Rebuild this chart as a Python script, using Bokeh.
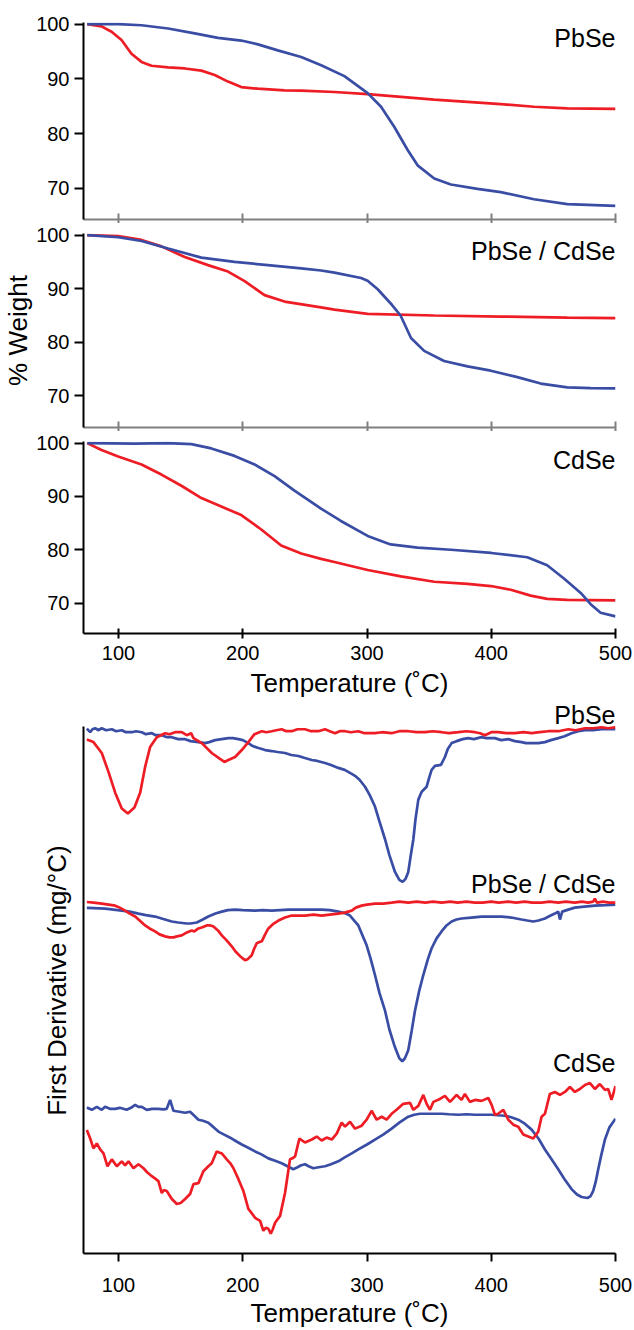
from bokeh.plotting import figure
from bokeh.layouts import column
from bokeh.models import Range1d, FixedTicker, Label
from bokeh.embed import file_html
from bokeh.resources import INLINE

# ---------------- data ----------------
x_ticks = [100, 200, 300, 400, 500]
w_ticks = [70, 80, 90, 100]
panel_names = ["PbSe", "PbSe / CdSe", "CdSe"]

# TGA: (temperature C, % weight)
tga_pbse_red = [(74.8, 100), (86.3, 99.6), (94.4, 98.6), (102.4, 97.1), (110.4, 94.6), (118.5, 93.1),
                (126.5, 92.4), (139.9, 92.1), (153.3, 91.9), (166.7, 91.5), (177.4, 90.7), (188.1, 89.5),
                (198.8, 88.5), (212.2, 88.2), (233.6, 87.9), (247, 87.85), (273.8, 87.6), (300.5, 87.2),
                (327.3, 86.7), (354.1, 86.2), (380.9, 85.8), (407.6, 85.4), (434.4, 84.9), (461.2, 84.6),
                (500, 84.5)]
tga_pbse_blue = [(74.8, 100), (99.7, 100), (118.5, 99.8), (139.9, 99.2), (161.3, 98.3), (180, 97.5),
                 (198.8, 97.0), (212.2, 96.3), (228.2, 95.2), (247, 94.0), (263.1, 92.5), (281.8, 90.5),
                 (300.5, 87.4), (311.3, 84.9), (322, 81.2), (332.7, 77.0), (340.7, 74.2), (354.1, 71.8),
                 (367.5, 70.7), (388.9, 69.9), (407.6, 69.3), (434.4, 68.0), (461.2, 67.1), (500, 66.8)]
tga_core_red = [(74.8, 100), (99.7, 99.8), (118.5, 99.1), (134.5, 97.9), (153.3, 95.9), (172, 94.4),
                (188.1, 93.2), (201.5, 91.4), (217.5, 88.8), (233.6, 87.6), (263, 86.5), (273.8, 86.1),
                (300.5, 85.3), (354.1, 85.0), (407.6, 84.8), (461.2, 84.6), (500, 84.5)]
tga_core_blue = [(74.8, 100), (99.7, 99.6), (118.5, 98.9), (139.9, 97.5), (166.7, 95.8), (193.4, 95.0),
                 (220.2, 94.4), (247, 93.8), (263, 93.4), (273.8, 93.0), (295.2, 92.0), (300.5, 91.5),
                 (308.6, 89.9), (320, 87.0), (327, 85.0), (335.4, 80.8), (346, 78.4), (362, 76.5),
                 (380.9, 75.5), (399.6, 74.7), (421, 73.5), (439.8, 72.3), (461.2, 71.6), (480, 71.45),
                 (500, 71.4)]
tga_cdse_red = [(74.8, 100), (86.3, 98.7), (99.7, 97.5), (118.5, 96.0), (134.5, 94.1), (150.6, 92.0),
                (166.7, 89.7), (182.7, 88.1), (198.8, 86.5), (214.9, 83.8), (230.9, 80.8), (247, 79.3),
                (263, 78.3), (273.8, 77.7), (300.5, 76.2), (327.3, 75.0), (354.1, 74.0), (380.9, 73.6),
                (399.6, 73.2), (415.7, 72.5), (431.7, 71.4), (445, 70.8), (461, 70.6), (500, 70.5)]
tga_cdse_blue = [(74.8, 100), (113, 99.9), (139.9, 100), (158.6, 99.8), (174.7, 99.0), (193.4, 97.6),
                 (209.5, 96.0), (225.6, 93.8), (241.6, 91.1), (263, 87.7), (279, 85.4), (300.5, 82.6),
                 (319, 81.0), (340.7, 80.4), (367.5, 80.0), (400, 79.4), (429, 78.6), (445, 77.1),
                 (458.5, 74.6), (472, 71.9), (480, 69.8), (488, 68.2), (500, 67.5)]

# First derivative (arbitrary units, traces stacked): (temperature C, value)
dtg_pbse_red = [(74.5, 518.7), (79.8, 516), (86.5, 505), (91.9, 486), (97.3, 465), (102.6, 449), (107.5, 444),
                (112.8, 450), (117.4, 465), (121.4, 491), (125.4, 511), (130.8, 521), (137.5, 525), (141, 524),
                (145.5, 526), (150.9, 526), (154.9, 523), (158.4, 525), (160.3, 520), (167, 515), (175, 505),
                (181.7, 499), (185.2, 496), (188.4, 498), (193.8, 501), (199.2, 508), (204.5, 516), (209.4, 524),
                (215.3, 527), (219, 526), (223.3, 527), (227, 528), (231.3, 529), (235, 527), (239.4, 527),
                (244, 529), (250.1, 529), (255, 527), (260.8, 527), (266.2, 529), (270, 527), (274.3, 525),
                (278, 527), (282.3, 527), (287, 526), (293, 527), (298, 525), (306.4, 525), (312, 526),
                (319.8, 525), (326, 527), (333.2, 527), (340, 526), (346.6, 526), (353, 527), (360, 526),
                (366, 525), (373.5, 526), (380, 527), (386.9, 526), (391, 525), (394.9, 523), (400, 526),
                (405.6, 526), (412, 525), (419, 525), (426, 526), (432.5, 525), (439, 526), (445.9, 527),
                (454, 527), (462, 529), (468, 528), (475.4, 530), (482, 530), (488.8, 531), (494, 530), (500, 531)]
dtg_pbse_blue = [(74.5, 529.7), (77.2, 526), (79, 529), (81.2, 530), (84, 528), (86.5, 530), (90, 528),
                 (94.6, 529), (98, 527), (102.6, 528), (106, 526), (110.7, 526), (114, 527), (118.7, 526),
                 (122, 524), (126.8, 525), (130, 523), (134.8, 523), (139, 521), (142.9, 521), (148, 519),
                 (153.6, 519), (158, 517), (164.3, 516), (169.7, 515), (173, 516), (177.7, 518), (183, 519),
                 (188.4, 520), (192, 520), (196.5, 519), (200, 518), (204.5, 515), (208, 512), (212.6, 510),
                 (218, 508), (223.3, 507), (228, 506), (234, 505), (239, 503), (244.8, 502), (250, 500),
                 (255.5, 498), (260, 497), (266.2, 495), (271, 493), (276.9, 490), (282, 488), (287.7, 484),
                 (290.3, 482), (294, 478), (298.4, 471), (302, 463), (306.4, 451), (310, 436), (314.5, 418),
                 (318, 402), (322.5, 385), (326, 377), (328.7, 375), (331, 378), (333.2, 385), (335, 400),
                 (337.3, 418), (339, 438), (341.3, 458), (344, 466), (348, 471), (350, 480), (352, 488),
                 (354.7, 492), (359.5, 493), (362.7, 501), (365, 509), (368.1, 515), (372.1, 517), (377, 519),
                 (381.5, 520), (386, 519), (392.2, 521), (396, 520), (402.9, 520), (408, 518), (413.7, 519),
                 (419, 517), (424.4, 516), (428, 515), (432.5, 515), (438, 515), (443.2, 516), (448, 518),
                 (453.9, 520), (459, 522), (464.6, 525), (470, 527), (475.4, 528), (482, 528), (488.8, 529),
                 (494, 529), (500, 529)]
dtg_core_red = [(74.5, 354.7), (80, 354), (86.5, 353), (92, 352), (97.3, 351), (101, 349), (105.3, 346),
                (109, 343), (113.4, 340), (117, 336), (121.4, 331), (125, 328), (129.4, 325), (133, 322),
                (137.5, 320), (141, 319), (144.2, 319), (147, 320), (150.9, 321), (155, 324), (158.9, 326),
                (161, 325), (164.3, 328), (167, 329), (171, 331), (174, 331), (176.4, 330), (180, 326),
                (183.1, 321), (187, 316), (191.1, 310), (194, 305), (197.8, 300), (201.8, 296), (204, 297),
                (207.2, 301), (209, 307), (211.2, 313), (213, 314), (215.3, 315), (218, 322), (220.6, 328),
                (224, 332), (228.7, 336), (234, 339), (239.4, 341), (245, 341), (250.1, 341), (257, 342),
                (263.5, 341), (270, 342), (276.9, 343), (282, 344), (287.7, 346), (291, 349), (295.7, 351),
                (300, 352), (306.4, 353), (313, 353), (319.8, 354), (326, 355), (333.2, 354), (340, 355),
                (347, 354), (353, 355), (360, 354), (367, 355), (373, 354), (380, 355), (386.9, 354),
                (393, 354), (400, 355), (406, 354), (413.7, 355), (420, 354), (427, 355), (433, 354),
                (440.5, 354), (447, 355), (454, 354), (460, 355), (467.3, 354), (473, 355), (478, 354),
                (482, 355), (483.4, 358), (485, 354), (490, 355), (495, 354), (500, 354)]
dtg_core_blue = [(74.5, 348.7), (80, 348.5), (89.2, 348), (96, 347), (102.6, 346), (109, 345), (116, 343),
                 (122, 341.5), (129.4, 340), (136, 337.5), (142.9, 335), (148, 334), (154.9, 333), (158, 333),
                 (163, 334), (167, 336.5), (172.3, 340), (178, 343), (183.1, 345), (188, 346.5), (193.8, 347),
                 (200, 346.5), (209.9, 346), (216, 346.5), (223.3, 346), (230, 346.5), (236.7, 347), (243, 347),
                 (250.1, 347), (257, 347), (263.5, 347), (270, 346.5), (276.9, 345), (282, 343.5), (286.3, 341),
                 (289, 337), (293, 331), (296, 322), (299.7, 311), (303, 297), (306.4, 281), (310, 263),
                 (314.5, 245), (318, 226), (322.5, 208), (326, 197), (328.4, 194), (330.5, 197), (333.2, 205),
                 (336, 225), (338.6, 245), (342, 265), (345.3, 281), (349, 297), (352, 308), (356, 318),
                 (360, 325), (364, 331), (368.1, 335), (372, 337), (376.1, 338), (384, 339), (392.2, 340),
                 (400, 340), (408.3, 340), (416, 339), (424.4, 337), (429, 336), (433.8, 335), (438, 336),
                 (443.2, 338), (447, 340.5), (451.2, 343), (453.9, 345), (455.3, 337), (457.1, 345), (462, 347),
                 (467.3, 349), (475, 350), (483.4, 351), (492, 351.5), (500, 352)]
dtg_cdse_red = [(74.5, 124.7), (77.2, 116), (79.8, 106), (82.5, 111), (85.2, 105), (87.9, 101), (91.1, 88),
                (94.6, 95), (98.6, 88), (102.6, 93), (105.3, 89), (108, 93), (112, 86), (116, 90), (120.1, 86),
                (123, 82), (126.8, 78), (129, 76), (132.1, 73), (134.8, 61), (136.5, 64), (138.8, 63),
                (142.9, 55), (146.9, 50), (150, 51), (153.6, 55), (157.6, 60), (160.3, 70), (164.3, 71),
                (168.3, 83), (172.3, 88), (175, 91), (179, 103), (181, 102), (183.1, 101), (187.1, 95),
                (190, 91), (192.5, 86), (196.5, 75), (200.5, 63), (204.5, 45), (207, 41), (209.9, 36),
                (213.9, 33), (216.6, 23), (218.5, 26), (220.6, 25), (222.5, 20), (224, 24), (226, 31),
                (230, 38), (234, 61), (238, 95), (240, 96), (242.1, 98), (245.6, 116), (250.1, 112),
                (255.5, 115), (259.5, 118), (263.5, 114), (267.5, 117), (271.6, 115), (275.6, 121),
                (279.6, 132), (282.3, 128), (286.3, 133), (290.3, 126), (295.7, 129), (299.7, 135),
                (303.7, 144), (307.8, 135), (311.8, 138), (315.8, 135), (319.8, 141), (323.8, 145),
                (329.2, 151), (334.6, 152), (337.3, 145), (341.3, 149), (345.3, 160), (348, 151), (350.7, 145),
                (353.4, 153), (358.7, 156), (362.7, 159), (366.8, 153), (372.1, 160), (376.1, 155),
                (378.8, 161), (382.8, 153), (386.9, 155), (392.2, 154), (397.6, 157), (400.3, 150), (403, 140),
                (405.6, 141), (409.7, 145), (413.7, 135), (417.7, 130), (421.7, 128), (425.8, 120),
                (429.8, 118), (433.8, 116), (437.8, 123), (440.5, 138), (443.2, 141), (447.2, 161),
                (451.2, 163), (455.3, 160), (459.3, 163), (463.3, 168), (467.3, 163), (471.3, 166),
                (475.4, 170), (479.4, 172), (483.4, 166), (487.4, 171), (491.5, 165), (494.1, 166),
                (496.8, 155), (500, 169)]
dtg_cdse_blue = [(74.5, 147.3), (78.5, 145), (82.5, 148), (86.5, 145), (89.2, 148), (93, 146), (97.3, 146),
                 (101, 147), (106.6, 145), (110, 147), (113.4, 150), (116, 148), (118.7, 148), (122.7, 145),
                 (127, 146), (132.1, 146), (136, 145.5), (138.8, 146), (141.5, 155), (144.2, 144), (149, 143),
                 (153.6, 142), (157.6, 143), (161, 139), (164.3, 135), (168, 134), (172.3, 132), (176, 128),
                 (180.4, 123), (185, 120), (191.1, 116), (195, 113), (199.2, 110), (204, 107), (209.9, 103),
                 (215, 100), (220.6, 96), (226, 93.5), (231.3, 91), (236, 88), (240.7, 85), (244, 87),
                 (247, 89), (250.1, 90), (253, 88), (256.8, 86), (261, 87), (266.2, 88), (271, 90),
                 (276.9, 93), (282, 97), (287.7, 101), (293, 105), (300, 110), (306.4, 115), (313, 120),
                 (319.8, 126), (326, 132), (333.2, 138), (338, 140), (342.6, 141), (350, 141), (360, 141),
                 (366, 140.5), (373.5, 140), (380, 140.5), (386.9, 140), (393, 140), (400.3, 140), (405, 139.5),
                 (411, 139), (416, 137.5), (421.7, 135), (427, 131), (432.5, 125), (438, 116), (443.2, 105),
                 (448, 96), (453.9, 85), (459, 75), (464.6, 65), (469, 59.5), (472.7, 57), (477.5, 56),
                 (480, 58), (482, 63), (484, 72), (486.1, 85), (488.5, 99), (491.5, 115), (495, 127), (500, 136)]

# label anchor values (data units)
tga_label_w = [97.4, 97.0, 96.9]
dtg_label_v = [543, 373, 192]

# ---------------- styling ----------------
RED = "#EE1D25"
BLUE = "#3A4DA5"
GREY = "#808080"
FONT = "Liberation Sans"
LW = 2.7
X0, X1 = 71.8, 500
W = 634


def unzip(pairs):
    return [p[0] for p in pairs], [p[1] for p in pairs]


def base_fig(height, top, bottom, yr):
    p = figure(width=W, height=height, x_range=Range1d(X0, X1), y_range=yr,
               output_backend="svg", toolbar_location=None,
               min_border_left=82, min_border_right=19, min_border_top=top, min_border_bottom=bottom)
    p.outline_line_color = None
    p.grid.visible = False
    p.background_fill_color = "white"
    p.border_fill_color = "white"
    for ax in (p.xaxis[0], p.yaxis[0]):
        ax.axis_line_width = 2
        ax.major_tick_line_width = 2
        ax.minor_tick_line_color = None
        ax.major_label_text_font = FONT
        ax.axis_label_text_font = FONT
        ax.axis_label_text_font_style = "normal"
        ax.major_label_text_color = "black"
        ax.axis_label_text_color = "black"
        ax.axis_line_color = "black"
        ax.major_tick_line_color = "black"
    p.xaxis.ticker = FixedTicker(ticks=x_ticks)
    return p


def tga_fig(height, top, bottom, y0, red, blue, name, lw, last=False, ylabel=None):
    p = base_fig(height, top, bottom, Range1d(y0, 100.3))
    ya = p.yaxis[0]
    ya.ticker = FixedTicker(ticks=w_ticks)
    ya.major_tick_in = 0
    ya.major_tick_out = 9
    ya.major_label_text_font_size = "20px"
    ya.major_label_standoff = 5
    if ylabel:
        ya.axis_label = ylabel
        ya.axis_label_text_font_size = "26px"
        ya.axis_label_standoff = 0
    xa = p.xaxis[0]
    if last:
        xa.major_tick_in = 5
        xa.major_tick_out = 5
        xa.major_label_text_font_size = "20px"
        xa.major_label_standoff = 7
        xa.axis_label = "Temperature (\u02daC)"
        xa.axis_label_text_font_size = "26px"
        xa.axis_label_standoff = 5
    else:
        xa.major_tick_in = 6
        xa.major_tick_out = 4
        xa.axis_line_color = GREY
        xa.major_tick_line_color = GREY
        xa.major_label_overrides = {t: "" for t in x_ticks}
        xa.major_label_text_font_size = "1px"
        xa.major_label_standoff = 0
    xr, yr_ = unzip(red)
    xb, yb = unzip(blue)
    p.line(xr, yr_, line_color=RED, line_width=LW)
    p.line(xb, yb, line_color=BLUE, line_width=LW)
    p.add_layout(Label(x=500, y=lw, text=name, text_align="right", text_baseline="middle",
                       text_font=FONT, text_font_size="25px", text_color="black"))
    return p


f1 = tga_fig(223, 22, 4, 64.3, tga_pbse_red, tga_pbse_blue, panel_names[0], tga_label_w[0])
f2 = tga_fig(208, 10, 4, 64.1, tga_core_red, tga_core_blue, panel_names[1], tga_label_w[1], ylabel="% Weight")
f3 = tga_fig(269, 10, 62, 64.3, tga_cdse_red, tga_cdse_blue, panel_names[2], tga_label_w[2], last=True)

f4 = base_fig(630, 0, 72, Range1d(0, 558))
ya = f4.yaxis[0]
ya.ticker = FixedTicker(ticks=[])
ya.bounds = (0, 532)
ya.major_tick_line_color = None
ya.axis_label = "First Derivative  (mg/\u00b0C)"
ya.axis_label_text_font_size = "26px"
ya.axis_label_standoff = 12
xa = f4.xaxis[0]
xa.major_tick_in = 0
xa.major_tick_out = 8
xa.major_label_text_font_size = "20px"
xa.major_label_standoff = 16
xa.axis_label = "Temperature (\u02daC)"
xa.axis_label_text_font_size = "26px"
xa.axis_label_standoff = 3

for red, blue in ((dtg_pbse_red, dtg_pbse_blue), (dtg_core_red, dtg_core_blue), (dtg_cdse_red, dtg_cdse_blue)):
    xr, yr_ = unzip(red)
    xb, yb = unzip(blue)
    f4.line(xb, yb, line_color=BLUE, line_width=LW)
    f4.line(xr, yr_, line_color=RED, line_width=LW)

for name, v in zip(panel_names, dtg_label_v):
    f4.add_layout(Label(x=500, y=v, text=name, text_align="right", text_baseline="middle",
                        text_font=FONT, text_font_size="25px", text_color="black"))

layout = column(f1, f2, f3, f4, spacing=0)
open("out.html", "w").write(file_html(layout, INLINE))
